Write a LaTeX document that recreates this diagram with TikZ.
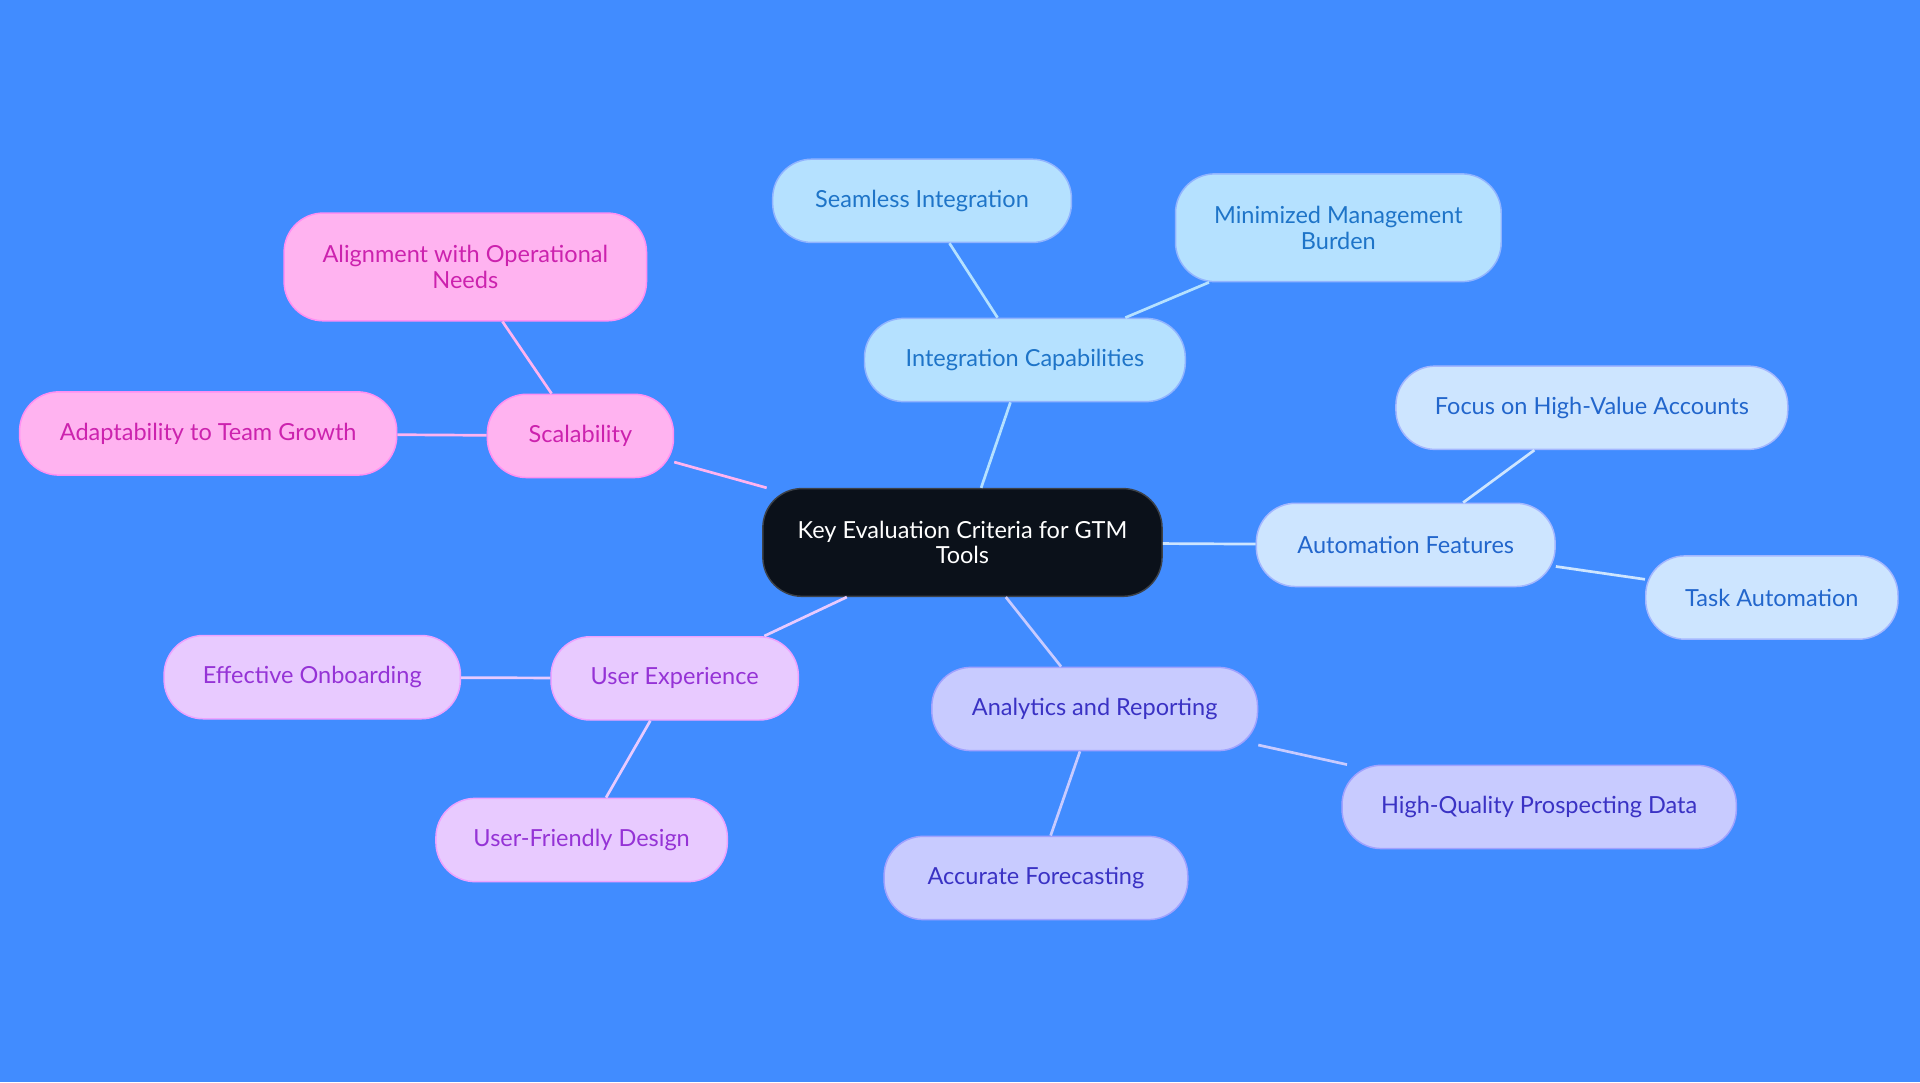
\documentclass[tikz,border=0pt]{standalone}
\usepackage{fontspec}
\setmainfont{Lato}
\begin{document}
\begin{tikzpicture}[x=0.5pt,y=-0.5pt,
 base/.style={rounded corners=16pt,draw,line width=0.6pt,align=center,font=\fontsize{9.6pt}{10.5pt}\selectfont,inner sep=0pt},
 c/.style={base,fill=black!85!blue!60!black,fill=cdark,draw=cdark!80!white,text=white},
 int/.style={base,fill=cint,draw=cint!80!blue,text=tint},
 aut/.style={base,fill=caut,draw=caut!80!blue,text=taut},
 ana/.style={base,fill=cana,draw=cana!80!blue,text=tana},
 ux/.style={base,fill=cux,draw=cux!80!magenta,text=tux},
 sca/.style={base,fill=csca,draw=csca!80!magenta,text=tsca},
 e/.style={line width=1.1pt}]
\definecolor{bg}{HTML}{418CFF}
\definecolor{cdark}{HTML}{0B111A}
\definecolor{cint}{HTML}{B5E1FF}\definecolor{tint}{HTML}{1E74C8}
\definecolor{caut}{HTML}{CDE5FF}\definecolor{taut}{HTML}{2266CC}
\definecolor{cana}{HTML}{C8CBFF}\definecolor{tana}{HTML}{3A32C4}
\definecolor{cux}{HTML}{E8CAFF}\definecolor{tux}{HTML}{9533D6}
\definecolor{csca}{HTML}{FFB3F0}\definecolor{tsca}{HTML}{CC22AE}
\fill[bg] (0,0) rectangle (1568,884);
\useasboundingbox (0,0) rectangle (1568,884);
\node[c,minimum width=163pt,minimum height=44pt] (C) at (786,443) {Key Evaluation Criteria for GTM\\Tools};
\node[int,minimum width=131pt,minimum height=34pt] (I) at (837,294) {Integration Capabilities};
\node[int,minimum width=122pt,minimum height=34pt] (I1) at (753,164) {Seamless Integration};
\node[int,minimum width=133pt,minimum height=44pt] (I2) at (1093,186) {Minimized Management\\Burden};
\node[aut,minimum width=122pt,minimum height=34pt] (A) at (1148,445) {Automation Features};
\node[aut,minimum width=160pt,minimum height=34pt] (A1) at (1300,333) {Focus on High-Value Accounts};
\node[aut,minimum width=103pt,minimum height=34pt] (A2) at (1447,488) {Task Automation};
\node[ana,minimum width=133pt,minimum height=34pt] (N) at (894,579) {Analytics and Reporting};
\node[ana,minimum width=161pt,minimum height=34pt] (N1) at (1257,659) {High-Quality Prospecting Data};
\node[ana,minimum width=124pt,minimum height=34pt] (N2) at (846,717) {Accurate Forecasting};
\node[ux,minimum width=101pt,minimum height=34pt] (U) at (551,554) {User Experience};
\node[ux,minimum width=121pt,minimum height=34pt] (U1) at (255,553) {Effective Onboarding};
\node[ux,minimum width=119pt,minimum height=34pt] (U2) at (475,686) {User-Friendly Design};
\node[sca,minimum width=76pt,minimum height=34pt] (S) at (474,356) {Scalability};
\node[sca,minimum width=148pt,minimum height=44pt] (S1) at (380,218) {Alignment with Operational\\Needs};
\node[sca,minimum width=154pt,minimum height=34pt] (S2) at (170,354) {Adaptability to Team Growth};
\begin{scope}[on background layer/.style={}]
\end{scope}
\draw[e,cint] (C) -- (I); \draw[e,cint] (I) -- (I1); \draw[e,cint] (I) -- (I2);
\draw[e,caut] (C) -- (A); \draw[e,caut] (A) -- (A1); \draw[e,caut] (A) -- (A2);
\draw[e,cana] (C) -- (N); \draw[e,cana] (N) -- (N1); \draw[e,cana] (N) -- (N2);
\draw[e,cux] (C) -- (U); \draw[e,cux] (U) -- (U1); \draw[e,cux] (U) -- (U2);
\draw[e,csca] (C) -- (S); \draw[e,csca] (S) -- (S1); \draw[e,csca] (S) -- (S2);
\end{tikzpicture}
\end{document}
